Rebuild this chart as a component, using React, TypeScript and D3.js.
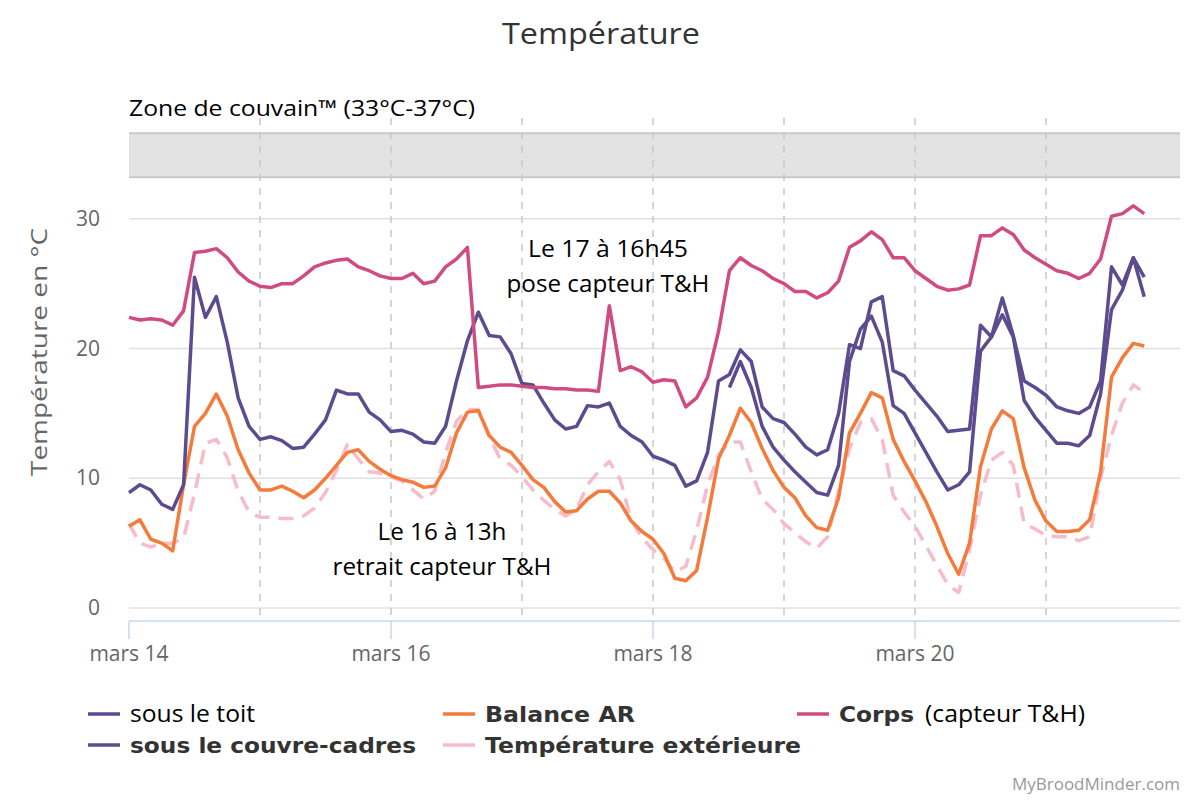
import React from 'react';
import * as d3 from 'd3';

// readings every 2 hours from mars 14, 00h
const startDay = Date.UTC(2021, 2, 14);
const stepHours = 2;

const corps = [22.4, 22.2, 22.3, 22.2, 21.8, 22.9, 27.4, 27.5, 27.7, 27.0,
  25.9, 25.2, 24.8, 24.7, 25.0, 25.0, 25.6, 26.3, 26.6, 26.8,
  26.9, 26.3, 26.0, 25.6, 25.4, 25.4, 25.8, 25.0, 25.2, 26.3,
  26.9, 27.8, 17.0, 17.1, 17.2, 17.2, 17.1, 17.0, 17.0, 16.9,
  16.9, 16.8, 16.8, 16.7, 23.3, 18.3, 18.6, 18.2, 17.4, 17.6,
  17.5, 15.5, 16.2, 17.8, 21.3, 26.0, 27.0, 26.4, 26.0, 25.4,
  25.0, 24.4, 24.4, 23.9, 24.3, 25.2, 27.8, 28.3, 29.0, 28.4,
  27.0, 27.0, 26.0, 25.4, 24.8, 24.5, 24.6, 24.9, 28.7, 28.7,
  29.3, 28.8, 27.6, 27.0, 26.5, 26.0, 25.8, 25.4, 25.8, 26.9,
  30.2, 30.4, 31.0, 30.4];

const couvreCadres = [8.9, 9.5, 9.1, 8.0, 7.6, 9.5, 25.5, 22.4, 24.0, 20.5,
  16.2, 14.0, 13.0, 13.2, 12.9, 12.3, 12.4, 13.4, 14.5, 16.8,
  16.5, 16.5, 15.1, 14.5, 13.6, 13.7, 13.4, 12.8, 12.7, 14.0,
  17.5, 20.6, 22.8, 21.0, 20.9, 19.6, 17.3, 17.2, 15.8, 14.5,
  13.8, 14.0, 15.6, 15.5, 15.8, 14.0, 13.3, 12.8, 11.7, 11.4,
  11.0, 9.4, 9.8, 12.0, 17.5, 18.0, 19.9, 19.0, 15.5, 14.6,
  14.3, 13.4, 12.4, 11.8, 12.2, 15.0, 20.3, 20.0, 23.6, 24.0,
  18.3, 17.9, 16.8, 15.8, 14.8, 13.6, 13.7, 13.8, 21.8, 20.9,
  23.9, 21.0, 17.5, 17.0, 16.4, 15.5, 15.2, 15.0, 15.5, 17.5,
  26.3, 24.9, 27.0, 25.5];

// sensor added later: no reading before index 55
const toitStart = 55;
const toit = [17.0, 19.0, 17.0, 14.0, 12.4,
  11.4, 10.5, 9.7, 8.9, 8.7, 11.0, 19.0, 21.5, 22.5, 20.5,
  15.6, 15.0, 13.5, 12.0, 10.5, 9.1, 9.5, 10.5, 19.8, 20.9,
  22.6, 20.9, 16.0, 14.7, 13.7, 12.7, 12.7, 12.5, 13.3, 16.5,
  23.0, 24.5, 27.0, 24.0];

const balance = [6.3, 6.8, 5.3, 5.0, 4.4, 9.5, 14.0, 15.0, 16.5, 14.8,
  12.2, 10.4, 9.1, 9.1, 9.4, 9.0, 8.5, 9.1, 10.0, 11.0,
  12.0, 12.2, 11.3, 10.7, 10.2, 9.9, 9.7, 9.3, 9.4, 10.8,
  13.5, 15.1, 15.2, 13.3, 12.4, 12.0, 11.0, 9.9, 9.3, 8.2,
  7.4, 7.5, 8.4, 9.0, 9.0, 8.1, 6.7, 5.9, 5.3, 4.2,
  2.3, 2.1, 2.9, 7.0, 11.5, 13.3, 15.4, 14.3, 12.3, 10.6,
  9.3, 8.5, 7.1, 6.2, 6.0, 8.5, 13.5, 15.0, 16.6, 16.2,
  13.0, 11.3, 9.8, 8.2, 6.3, 4.2, 2.6, 5.0, 10.9, 13.8,
  15.2, 14.6, 10.8, 8.3, 6.7, 5.9, 5.9, 6.0, 6.8, 10.5,
  17.8, 19.3, 20.4, 20.2];

const exterieure = [6.5, 5.0, 4.7, 5.0, 5.0, 5.4, 8.8, 12.7, 13.0, 11.6,
  9.0, 7.4, 7.0, 7.0, 6.9, 6.9, 7.1, 7.7, 8.9, 10.6,
  12.6, 11.5, 10.5, 10.4, 10.1, 9.8, 9.1, 8.4, 9.0, 12.0,
  14.4, 15.3, 15.3, 13.2, 11.5, 11.0, 10.1, 9.1, 8.3, 7.6,
  7.1, 7.6, 9.5, 10.5, 11.3, 9.9, 6.8, 5.4, 4.5, 3.8,
  2.8, 3.2, 6.0, 9.5, 11.8, 12.8, 12.8, 10.5, 8.4, 7.6,
  6.5, 5.8, 5.1, 4.6, 5.5, 9.0, 12.3, 14.3, 14.6, 13.0,
  8.7, 7.4, 6.3, 4.8, 3.3, 1.8, 1.2, 4.5, 8.7, 11.4,
  12.0, 11.0, 6.5, 6.1, 5.6, 5.5, 5.5, 5.2, 5.5, 10.0,
  13.3, 15.8, 17.2, 16.6];

const yTicks = [0, 10, 20, 30];
const broodZone = [33.2, 36.6];

const purple = '#5c4b8f';
const orange = '#f47b3b';
const magenta = '#d14b83';
const pink = '#f6bccb';

const W = 1200;
const H = 800;
const left = 129;
const right = 1177;
const top = 128;
const bottom = 621;

const timeOf = (i: number) => new Date(startDay + i * stepHours * 3600 * 1000);

export default function App() {
  const start = new Date(startDay);
  const end = d3.utcDay.offset(start, 8);
  const x = d3.scaleUtc().domain([start, end]).range([left, right]);
  const y = d3.scaleLinear().domain([-1, 37]).range([bottom, top]);

  const line = d3.line<number | null>()
    .defined(d => d != null)
    .x((_, i) => x(timeOf(i)))
    .y(d => y(d as number));

  const toitFull: (number | null)[] = corps.map((_, i) => (i < toitStart ? null : toit[i - toitStart]));

  const allDays = d3.utcDay.range(start, end);
  const gridDays = allDays.slice(1);
  const labelDays = allDays.filter((_, i) => i % 2 === 0);

  const series = [
    { data: exterieure, color: pink, dash: '15 9' },
    { data: balance, color: orange },
    { data: toitFull, color: purple },
    { data: couvreCadres, color: purple },
    { data: corps, color: magenta },
  ];

  const legend = [
    { label: 'sous le toit', color: purple, x: 88, y: 714, bold: false, len: 125 },
    { label: 'sous le couvre-cadres', color: purple, x: 88, y: 745, bold: true, len: 286 },
    { label: 'Balance AR', color: orange, x: 443, y: 714, bold: true, len: 150 },
    { label: 'Température extérieure', color: pink, x: 443, y: 745, bold: true, len: 316 },
    { label: 'Corps', color: magenta, x: 797, y: 714, bold: true, len: 75 },
  ];

  return (
    <svg width={W} height={H} style={{ position: 'absolute', left: 0, top: 0, background: '#fff' }}
      fontFamily="'Open Sans', sans-serif">
      <rect width={W} height={H} fill="#fff" />
      <text x={601} y={44} textAnchor="middle" fontSize={30} fill="#333"
        textLength={198} lengthAdjust="spacingAndGlyphs">Température</text>

      <text x={left} y={116} fontSize={22} fill="#000"
        textLength={346} lengthAdjust="spacingAndGlyphs">Zone de couvain™ (33°C-37°C)</text>

      {yTicks.map(t => (
        <g key={t}>
          <line x1={left} x2={1180} y1={y(t)} y2={y(t)} stroke="#e0e0e0" strokeWidth={1.5} />
          <text x={100} y={y(t) + 7} textAnchor="end" fontSize={21} fill="#666">{t}</text>
        </g>
      ))}

      <rect x={left} y={y(broodZone[1])} width={1180 - left} height={y(broodZone[0]) - y(broodZone[1])}
        fill="#e3e3e3" />
      <line x1={left} x2={1180} y1={y(broodZone[1])} y2={y(broodZone[1])} stroke="#c9c9c9" strokeWidth={2} />
      <line x1={left} x2={1180} y1={y(broodZone[0])} y2={y(broodZone[0])} stroke="#c9c9c9" strokeWidth={2} />

      {gridDays.map(d => (
        <line key={+d} x1={x(d)} x2={x(d)} y1={118} y2={bottom} stroke="#c8c8c8" strokeWidth={1.5}
          strokeDasharray="7 7" />
      ))}

      <line x1={left} x2={1180} y1={bottom} y2={bottom} stroke="#ccd6eb" strokeWidth={1.5} />
      {labelDays.map(d => (
        <g key={+d}>
          <line x1={x(d)} x2={x(d)} y1={bottom} y2={bottom + 18} stroke="#ccd6eb" strokeWidth={1.5} />
          <text x={x(d)} y={661} textAnchor="middle" fontSize={21} fill="#666">{`mars ${d.getUTCDate()}`}</text>
        </g>
      ))}

      <text transform="translate(47,352) rotate(-90)" textAnchor="middle" fontSize={21} fill="#666"
        textLength={248} lengthAdjust="spacingAndGlyphs">Température en °C</text>

      {series.map((s, i) => (
        <path key={i} d={line(s.data) || ''} fill="none" stroke={s.color} strokeWidth={3.5}
          strokeDasharray={s.dash} strokeLinejoin="round" />
      ))}

      <g fontSize={24} fill="#000" textAnchor="middle">
        <text x={608} y={257} textLength={160} lengthAdjust="spacingAndGlyphs">Le 17 à 16h45</text>
        <text x={608} y={292} textLength={203} lengthAdjust="spacingAndGlyphs">pose capteur T&amp;H</text>
        <text x={442} y={540} textLength={129} lengthAdjust="spacingAndGlyphs">Le 16 à 13h</text>
        <text x={442} y={575} textLength={219} lengthAdjust="spacingAndGlyphs">retrait capteur T&amp;H</text>
      </g>

      {legend.map(l => (
        <g key={l.label}>
          <line x1={l.x} x2={l.x + 32} y1={l.y} y2={l.y} stroke={l.color} strokeWidth={3.5} />
          <text x={l.x + 42} y={l.y + 8} fontSize={l.bold ? 22 : 23} fontWeight={l.bold ? 'bold' : 'normal'}
            fill={l.bold ? '#333' : '#000'} fontFamily={l.bold ? "'DejaVu Sans', sans-serif" : "'Open Sans', sans-serif"}
            textLength={l.len} lengthAdjust="spacingAndGlyphs">
            {l.label}
          </text>
        </g>
      ))}
      <text x={925} y={722} fontSize={23} fill="#000" textLength={160} lengthAdjust="spacingAndGlyphs">(capteur T&amp;H)</text>

      <text x={1180} y={790} textAnchor="end" fontSize={17} fill="#999">MyBroodMinder.com</text>
    </svg>
  );
}
